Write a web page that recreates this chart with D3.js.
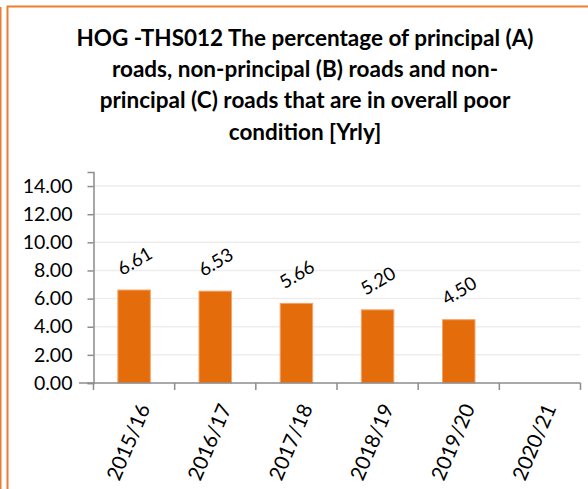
<!DOCTYPE html>
<html>
<head>
<meta charset="utf-8">
<script src="https://cdn.jsdelivr.net/npm/d3@7"></script>
<style>
  body { margin: 0; background: #fff; }
  svg { display: block; }
</style>
</head>
<body>
<div id="chart"></div>
<script>
const titleLines = [
  "HOG -THS012 The percentage of principal (A)",
  "roads, non-principal (B) roads and non-",
  "principal (C) roads that are in overall poor",
  "condition [Yrly]"
]
const years = ["2015/16", "2016/17", "2017/18", "2018/19", "2019/20", "2020/21"]
const values = [6.61, 6.53, 5.66, 5.20, 4.50, null]
const yTicks = [0, 2, 4, 6, 8, 10, 12, 14]

const width = 588, height = 489
const orange = "#E46C0A"
const font = "Lato, 'Liberation Sans', sans-serif"

let svg = d3.select("#chart").append("svg")
  .attr("width", width)
  .attr("height", height)

// frame
svg.append("line")
  .attr("x1", 0.75).attr("x2", 0.75)
  .attr("y1", 7).attr("y2", height)
  .attr("stroke", "#ED7D31").attr("stroke-width", 1.5)

svg.append("rect")
  .attr("x", 7.5).attr("y", 6.5)
  .attr("width", 620).attr("height", 600)
  .attr("fill", "white")
  .attr("stroke", "#ED7D31").attr("stroke-width", 2)

// title
svg.append("g")
  .selectAll("text")
  .data(titleLines)
  .join("text")
  .text(d => d)
  .attr("x", 305)
  .attr("y", (d, i) => 46 + i * 31.2)
  .attr("text-anchor", "middle")
  .attr("font-family", font)
  .attr("font-weight", "bold")
  .attr("font-size", "22.5px")
  .attr("fill", "#000")

let x = d3.scaleBand()
  .domain(years)
  .range([93.5, 580.5])
  .paddingInner(0.6)
  .paddingOuter(0.3)

let y = d3.scaleLinear()
  .domain([0, 15])
  .range([383, 172])

// gridlines
svg.append("g")
  .selectAll("line")
  .data(yTicks.filter(d => d > 0))
  .join("line")
  .attr("x1", 93.5).attr("x2", 580.5)
  .attr("y1", d => y(d)).attr("y2", d => y(d))
  .attr("stroke", "#EDEDED").attr("stroke-width", 1.5)

let rows = years.map((d, i) => ({year: d, value: values[i]})).filter(d => d.value != null)

// bars
svg.append("g")
  .selectAll("rect")
  .data(rows)
  .join("rect")
  .attr("x", d => x(d.year))
  .attr("y", d => y(d.value))
  .attr("width", x.bandwidth())
  .attr("height", d => y(0) - y(d.value))
  .attr("fill", orange)
  .attr("stroke", "#F4A46A").attr("stroke-width", 1)

// data labels
svg.append("g")
  .selectAll("text")
  .data(rows)
  .join("text")
  .text(d => d3.format(".2f")(d.value))
  .attr("transform", d => `translate(${x(d.year) + x.bandwidth() / 2 + 0.5},${y(d.value) - 29}) rotate(-31)`)
  .attr("dy", "0.35em")
  .attr("text-anchor", "middle")
  .attr("font-family", font)
  .attr("font-size", "18.5px")
  .attr("fill", "#000")

// y axis
let yAxis = svg.append("g")
  .attr("transform", "translate(93.5,0)")
  .call(d3.axisLeft(y).tickValues(yTicks).tickFormat(d3.format(".2f")).tickSizeOuter(0).tickSize(6).tickPadding(15))
yAxis.select(".domain").attr("stroke", "#8C8C8C").attr("stroke-width", 1.5)
yAxis.selectAll(".tick line").attr("stroke", "#8C8C8C").attr("stroke-width", 1.5)
yAxis.selectAll(".tick text")
  .attr("font-family", font)
  .attr("font-size", "19.5px")
  .attr("fill", "#000")

// x axis
let xAxis = svg.append("g")
  .attr("transform", `translate(0,${y(0)})`)
xAxis.append("line")
  .attr("x1", 79).attr("x2", 580.5)
  .attr("stroke", "#8C8C8C").attr("stroke-width", 1.5)
xAxis.selectAll(".cat-tick")
  .data(d3.range(years.length + 1))
  .join("line")
  .attr("class", "cat-tick")
  .attr("x1", i => x.range()[0] + i * x.step())
  .attr("x2", i => x.range()[0] + i * x.step())
  .attr("y1", 0).attr("y2", 7)
  .attr("stroke", "#8C8C8C").attr("stroke-width", 1.5)
xAxis.selectAll(".cat-label")
  .data(years)
  .join("text")
  .attr("class", "cat-label")
  .text(d => d)
  .attr("transform", d => `translate(${x(d) + x.bandwidth() / 2 + 10},${22}) rotate(-67)`)
  .attr("dy", "0.35em")
  .attr("text-anchor", "end")
  .attr("font-family", font)
  .attr("font-size", "20.5px")
  .attr("fill", "#000")
</script>
</body>
</html>
